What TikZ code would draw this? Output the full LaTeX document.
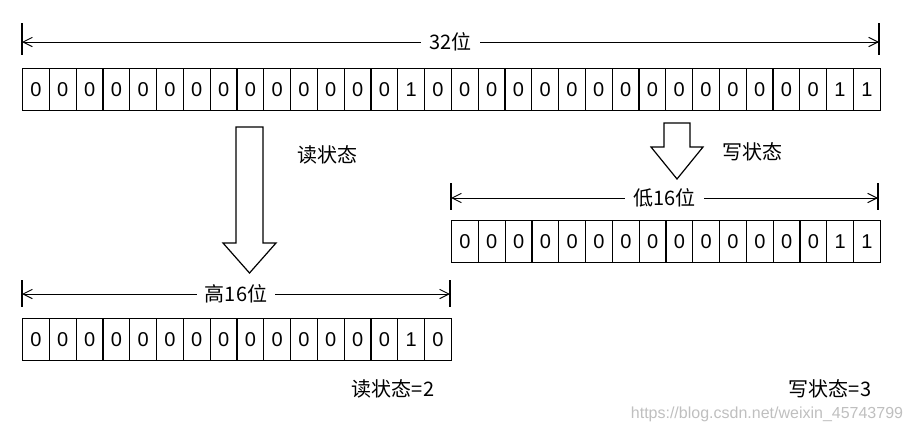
\documentclass[tikz,border=0pt]{standalone}
\usepackage{fontspec}
\setmainfont{Liberation Sans}
\newfontfamily\cjk{Noto Sans CJK SC}
\usetikzlibrary{arrows.meta}
\begin{document}
\begin{tikzpicture}[x=0.75pt,y=-0.75pt,
  cellbox/.style={draw,line width=0.9pt,minimum width=26.8*0.75pt,minimum height=42*0.75pt,inner sep=0pt,font=\fontsize{15}{15}\selectfont,anchor=north west},
  dimline/.style={line width=0.7pt,{Straight Barb[length=7pt,width=7pt]}-{Straight Barb[length=7pt,width=7pt]}},
  tick/.style={line width=0.8pt},
  lbl/.style={fill=white,inner xsep=6pt,font=\cjk\fontsize{15}{15}\selectfont},
  txt/.style={font=\cjk\fontsize{15}{15}\selectfont},
  bigarrow/.style={draw,line width=0.9pt,fill=white}]
\useasboundingbox (0,0) rectangle (912,432);
% top row
\foreach \b [count=\i from 0] in {0,0,0,0,0,0,0,0,0,0,0,0,0,0,1,0,0,0,0,0,0,0,0,0,0,0,0,0,0,0,1,1}
  \node[cellbox] (t\i) at ({22+\i*26.8},68) {\b};
\coordinate (tl1) at (22,23); \coordinate (tl2) at (22,55);
\coordinate (tr1) at (879,23); \coordinate (tr2) at (879,55);
\draw[tick] (tl1)--(tl2); \draw[tick] (tr1)--(tr2);
\coordinate (ta) at (22,42); \coordinate (tb) at (879,42);
\draw[dimline] (ta)--(tb) node[lbl,midway] (l32) {32位};
% bottom-left row
\foreach \b [count=\i from 0] in {0,0,0,0,0,0,0,0,0,0,0,0,0,0,1,0}
  \node[cellbox] (h\i) at ({22+\i*26.8},318) {\b};
\coordinate (hl1) at (22,280); \coordinate (hl2) at (22,307);
\coordinate (hr1) at (450,280); \coordinate (hr2) at (450,307);
\draw[tick] (hl1)--(hl2); \draw[tick] (hr1)--(hr2);
\coordinate (ha) at (22,294); \coordinate (hb) at (450,294);
\draw[dimline] (ha)--(hb) node[lbl,midway] (l16h) {高16位};
% right row
\foreach \b [count=\i from 0] in {0,0,0,0,0,0,0,0,0,0,0,0,0,0,1,1}
  \node[cellbox] (w\i) at ({451+\i*26.8},220) {\b};
\coordinate (wl1) at (451,183); \coordinate (wl2) at (451,210);
\coordinate (wr1) at (878,183); \coordinate (wr2) at (878,210);
\draw[tick] (wl1)--(wl2); \draw[tick] (wr1)--(wr2);
\coordinate (wa) at (451,198); \coordinate (wb) at (878,198);
\draw[dimline] (wa)--(wb) node[lbl,midway] (l16l) {低16位};
% big arrow
\draw[bigarrow] (236,127)--(263,127)--(263,243)--(276,243)--(249.5,273)--(223,243)--(236,243)--cycle;
\node[txt] (rs) at (327,155) {读状态};
% small arrow
\draw[bigarrow] (664,123)--(690,123)--(690,147)--(703,147)--(677,179)--(651,147)--(664,147)--cycle;
\node[txt] (ws) at (752,152) {写状态};
\node[txt] (rs2) at (393,389) {读状态=2};
\node[txt] (ws2) at (830,389) {写状态=3};
\node[font=\fontsize{12}{12}\selectfont,text=black!25] (wm) at (767,414) {https://blog.csdn.net/weixin\_45743799};
\end{tikzpicture}
\end{document}
